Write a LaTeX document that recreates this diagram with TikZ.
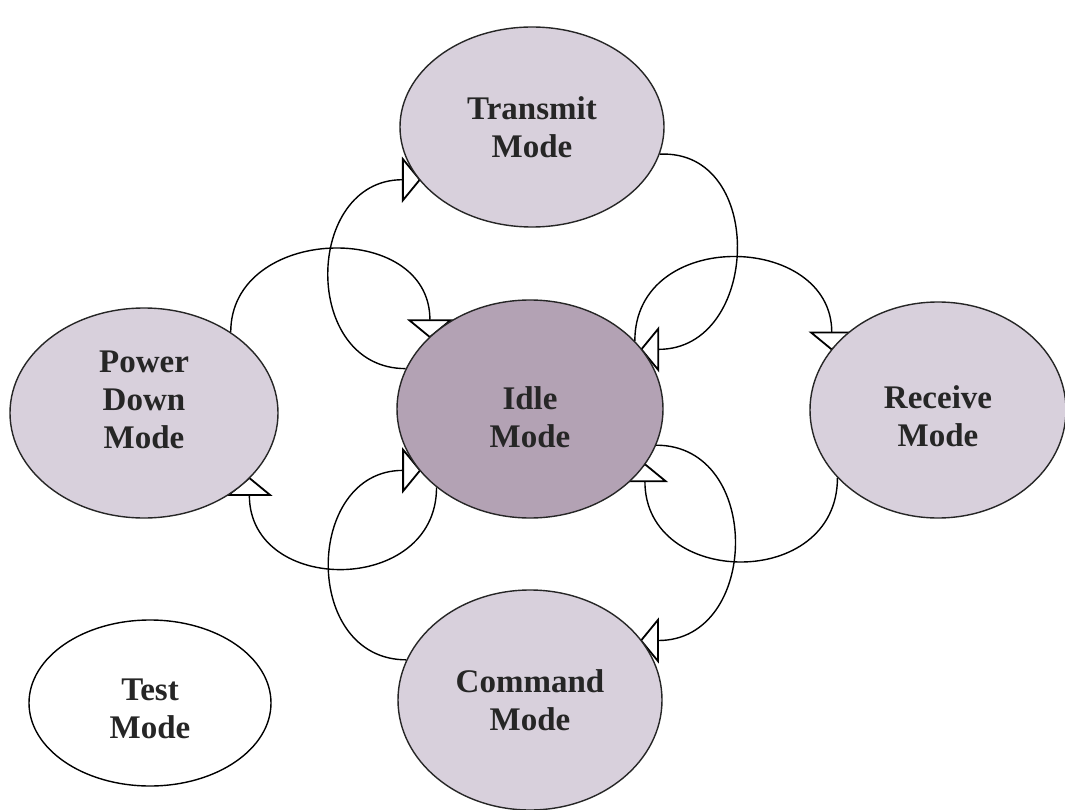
\documentclass[tikz,border=0pt]{standalone}
\usepackage{fontspec}
\setmainfont{Liberation Serif}
\usetikzlibrary{shapes.geometric,arrows.meta,backgrounds}
\definecolor{lavlight}{HTML}{D8D0DC}
\definecolor{idlefill}{HTML}{B3A2B4}
\definecolor{txt}{HTML}{262626}
\begin{document}
\begin{tikzpicture}[x=1pt,y=-1pt,
  state/.style={ellipse, draw=black!85, line width=1.4pt, inner sep=0pt},
  lbl/.style={align=center, inner sep=0pt, font=\fontsize{33}{38}\selectfont\bfseries, text=txt},
  lightstate/.style={state, fill=lavlight},
  idlestate/.style={state, fill=idlefill},
  teststate/.style={state, fill=white, draw=black},
  trans/.style={line width=1.4pt, shorten >=-2pt,
    -{Triangle[length=19pt,width=46pt,fill=white,line width=1.8pt]}}
]
\useasboundingbox (0,0) rectangle (1065,810);

\node[lightstate, minimum width=264pt, minimum height=200pt,
  label={[lbl]center:{Transmit\\Mode}}] (transmit) at (532,127) {};
\node[idlestate, minimum width=266pt, minimum height=218pt,
  label={[lbl, yshift=-8pt]center:{Idle\\Mode}}] (idle) at (530,409) {};
\node[lightstate, minimum width=268pt, minimum height=210pt,
  label={[lbl, yshift=13pt]center:{Power\\Down\\Mode}}] (pd) at (144,413) {};
\node[lightstate, minimum width=256pt, minimum height=216pt,
  label={[lbl, yshift=-6pt]center:{Receive\\Mode}}] (receive) at (938,410) {};
\node[lightstate, minimum width=264pt, minimum height=220pt,
  label={[lbl]center:{Command\\Mode}}] (command) at (530,700) {};
\node[teststate, minimum width=242pt, minimum height=166pt,
  label={[lbl, yshift=-6pt]center:{Test\\Mode}}] (test) at (150,703) {};

\begin{pgfonlayer}{background}
\fill[white] (0,0) rectangle (1065,810);
% top-left
\draw[trans] (idle.162) .. controls +(-105,0) and +(-115,0) .. (transmit.205);
\draw[trans] (pd.43) .. controls +(0,-107) and +(0,-117) .. (idle.144);
% top-right
\draw[trans] (transmit.-12.5) .. controls +(107,-5) and +(118,0) .. (idle.28);
\draw[trans] (idle.33) .. controls +(0,-114) and +(0,-116) .. (receive.150);
% bottom-left
\draw[trans] (idle.220) .. controls +(0,108) and +(0,117) .. (pd.-32);
\draw[trans] (command.162) .. controls +(-105,0) and +(-115,0) .. (idle.209);
% bottom-right
\draw[trans] (receive.214) .. controls +(0,113) and +(0,123) .. (idle.-26);
\draw[trans] (idle.-16) .. controls +(107,0) and +(118,0) .. (command.28);
\end{pgfonlayer}
\end{tikzpicture}
\end{document}
